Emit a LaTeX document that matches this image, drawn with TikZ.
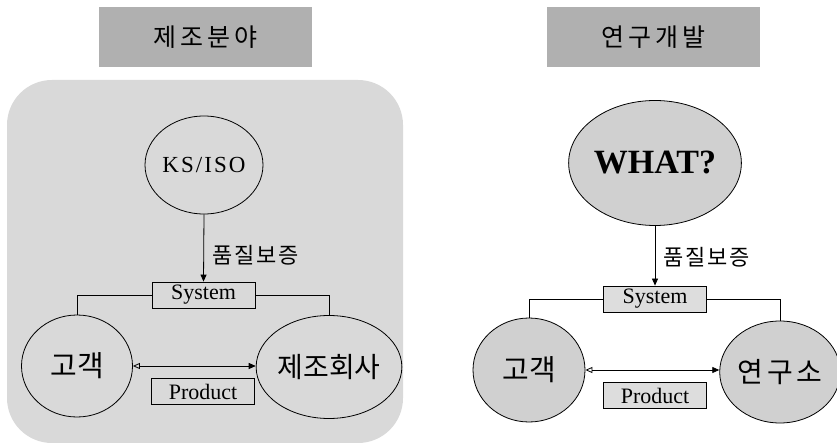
\documentclass[tikz,border=0pt]{standalone}
\usepackage{fontspec}
\setmainfont{Liberation Serif}
\newfontfamily\kr{Noto Sans CJK KR}
\newfontfamily\serifsp[LetterSpace=9]{Liberation Serif}
\newcommand{\gk}[1]{\kern#1pt}
\usetikzlibrary{shapes.geometric,arrows.meta}
\definecolor{titlegray}{HTML}{B0B0B0}
\definecolor{panelgray}{HTML}{D9D9D9}
\definecolor{ballgray}{HTML}{D0D0D0}
\definecolor{boxgray}{HTML}{DDDDDD}
\tikzset{
  titlebox/.style={draw=none,fill=titlegray,minimum width=213pt,minimum height=60pt,inner sep=0pt,font=\kr\fontsize{25}{27}\selectfont},
  ball/.style={draw,ellipse,line width=0.8pt,inner sep=0pt},
  smallbox/.style={draw,line width=0.8pt,minimum width=103pt,minimum height=26pt,inner sep=0pt,font=\fontsize{22}{24}\selectfont},
  conn/.style={line width=0.8pt},
  arr/.style={conn,-{Triangle[length=7pt,width=6pt]}},
  darr/.style={conn,{Triangle[open,length=7pt,width=6pt]}-{Triangle[length=7pt,width=6pt]}},
  qlabel/.style={font=\kr\fontsize{22}{24}\selectfont,inner sep=0pt}
}
\begin{document}
\begin{tikzpicture}[x=1pt,y=-1pt]
\useasboundingbox (0,0) rectangle (837,443);
\fill[white] (0,0) rectangle (837,443);
% ---------- left panel ----------
\node[titlebox] (t1) at (205.5,37) {제\gk4조\gk4분\gk4야};
\fill[panelgray,rounded corners=45pt] (7,80) rectangle (403,443);
\node[ball,minimum width=118pt,minimum height=98pt,font=\serifsp\fontsize{23}{25}\selectfont] (ks) at (204,165) {KS/ISO};
\node[smallbox] (sys1) at (203.5,295) {System};
\node[ball,minimum width=111pt,minimum height=102pt,font=\kr\fontsize{29}{31}\selectfont] (c1) at (77,366) {고객};
\node[ball,minimum width=122pt,minimum height=103pt,font=\kr\fontsize{28}{30}\selectfont] (m1) at (329,367) {제조회사};
\node[smallbox] (p1) at (203,391.5) {Product};
\node[qlabel] (q1) at (255.5,255) {품\gk2질\gk2보\gk2증};
\draw[arr] (ks.south) -- (sys1.north);
\draw[conn] (sys1.west) -| (c1.north);
\draw[conn] (sys1.east) -| (m1.north);
\draw[darr] (c1.east) -- (m1.west |- c1.east);
% ---------- right panel ----------
\node[titlebox] (t2) at (653.5,37.5) {연\gk4구\gk4개\gk4발};
\node[ball,fill=ballgray,minimum width=135pt,minimum height=125pt,font=\bfseries\fontsize{34}{36}\selectfont] (wh) at (655,163) {WHAT?};
\node[smallbox,fill=boxgray] (sys2) at (655,299) {System};
\node[ball,fill=ballgray,minimum width=112pt,minimum height=104pt,font=\kr\fontsize{29}{31}\selectfont] (c2) at (529,370) {고객};
\node[ball,fill=ballgray,minimum width=116pt,minimum height=102pt,font=\kr\fontsize{28}{30}\selectfont] (r2) at (780,372) {연\gk4구\gk4소};
\node[smallbox,fill=boxgray] (p2) at (655,395.5) {Product};
\node[qlabel] (q2) at (706.5,257) {품\gk2질\gk2보\gk2증};
\draw[arr] (wh.south) -- (sys2.north);
\draw[conn] (sys2.west) -| (c2.north);
\draw[conn] (sys2.east) -| (r2.north);
\draw[darr] (c2.east) -- (r2.west |- c2.east);
\end{tikzpicture}
\end{document}
